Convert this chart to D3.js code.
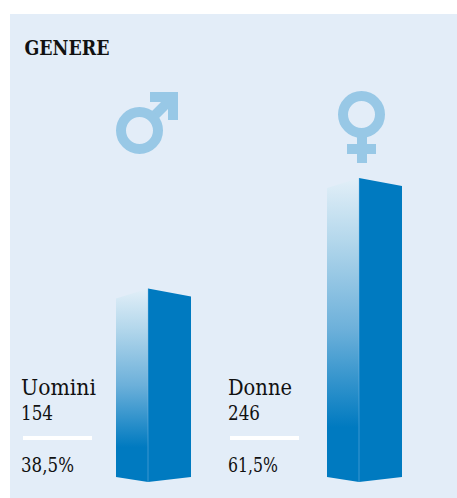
<!DOCTYPE html>
<html lang="it">
<head>
  <meta charset="utf-8"/>
  <title>Genere</title>
  <script src="https://d3js.org/d3.v7.min.js"></script>
  <style>
    html, body { margin: 0; padding: 0; background: #fff; }
    svg { display: block; }
  </style>
</head>
<body>
  <svg id="chart" width="457" height="498"></svg>
  <script>
    var title = "GENERE";
    var categories = ["Uomini", "Donne"];
    var counts = [154, 246];
    var shares = ["38,5%", "61,5%"];

    var svg = d3.select("#chart");
    var dark = "#007ac0", pale = "#98c8e6", panel = "#e3edf8";
    var serif = "'DejaVu Serif', serif";

    svg.append("rect").attr("x", 10).attr("y", 14).attr("width", 447).attr("height", 484).attr("fill", panel);

    svg.append("text").text(title)
      .attr("x", 24.5).attr("y", 55)
      .attr("font-family", serif).attr("font-weight", "bold").attr("font-size", 20)
      .attr("textLength", 85).attr("lengthAdjust", "spacingAndGlyphs")
      .attr("fill", "#111");

    // x = the front edge of each bar
    var x = d3.scalePoint().domain(categories).range([148, 359]);
    var y = d3.scaleLinear().domain([0, 246]).range([473.5, 178]);

    var grad = svg.append("defs").append("linearGradient")
      .attr("id", "faceGrad").attr("x1", "0%").attr("y1", "0%").attr("x2", "0%").attr("y2", "100%");
    grad.append("stop").attr("offset", "0%").attr("stop-color", "#e2eff8");
    grad.append("stop").attr("offset", "20%").attr("stop-color", "#b5d8ec");
    grad.append("stop").attr("offset", "50%").attr("stop-color", "#6cb0da");
    grad.append("stop").attr("offset", "82%").attr("stop-color", dark);
    grad.append("stop").attr("offset", "100%").attr("stop-color", dark);

    var line = d3.line();
    var base = 482;

    var bars = svg.selectAll("g.bar").data(categories).enter().append("g").attr("class", "bar");

    // left face with the gradient
    bars.append("path")
      .attr("fill", "url(#faceGrad)")
      .attr("d", function (d, i) {
        var cx = x(d), top = y(counts[i]);
        return line([[cx - 32, top + 10], [cx, top], [cx, base], [cx - 32, base - 5]]) + "Z";
      });

    // right face
    bars.append("path")
      .attr("fill", dark)
      .attr("d", function (d, i) {
        var cx = x(d), top = y(counts[i]);
        return line([[cx, top], [cx + 43, top + 8], [cx + 43, base - 5], [cx, base]]) + "Z";
      });

    // thin seam between the faces
    bars.append("path")
      .attr("stroke", "#8cc3e6").attr("stroke-opacity", 0.6).attr("stroke-width", 0.7)
      .attr("d", function (d, i) { return line([[x(d), y(counts[i])], [x(d), base]]); });

    // labels sit to the left of each bar
    var labels = svg.selectAll("g.label").data(categories).enter().append("g").attr("class", "label")
      .attr("transform", function (d) { return "translate(" + (x(d) - 127 + (d === "Donne" ? -4 : 0)) + ",0)"; })
      .attr("font-family", serif).attr("fill", "#111");

    labels.append("text").text(function (d) { return d; })
      .attr("y", 395).attr("font-size", 21.5)
      .attr("textLength", function (d) { return d === "Donne" ? 64 : 75; })
      .attr("lengthAdjust", "spacingAndGlyphs");
    labels.append("text").text(function (d, i) { return counts[i]; })
      .attr("y", 420).attr("font-size", 20.5)
      .attr("textLength", 32).attr("lengthAdjust", "spacingAndGlyphs");
    labels.append("rect").attr("x", 2).attr("y", 436).attr("width", 69).attr("height", 4).attr("fill", "#fff");
    labels.append("text").text(function (d, i) { return shares[i]; })
      .attr("y", 471.5).attr("font-size", 20.5)
      .attr("textLength", function (d) { return d === "Donne" ? 50 : 53; })
      .attr("lengthAdjust", "spacingAndGlyphs");

    // gender symbols
    var sym = svg.append("g").attr("fill", pale);

    function ring(cx, cy) {
      svg.append("circle").attr("cx", cx).attr("cy", cy).attr("r", 18.5)
        .attr("fill", "none").attr("stroke", pale).attr("stroke-width", 10);
    }

    ring(139.5, 130.5);
    sym.append("path").attr("d", line([[150, 92], [178, 92], [178, 120], [168, 120], [168, 109], [158, 119], [151, 112], [161, 102], [150, 102]]) + "Z");

    ring(361.5, 114.5);
    sym.append("path").attr("d", line([[357, 137], [367, 137], [367, 144], [376, 144], [376, 154], [367, 154], [367, 163], [357, 163], [357, 154], [347, 154], [347, 144], [357, 144]]) + "Z");
  </script>
</body>
</html>
